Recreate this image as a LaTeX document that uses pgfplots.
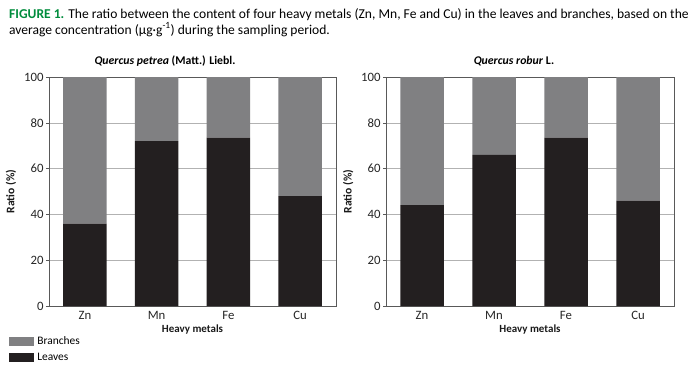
\documentclass[border=0pt]{standalone}
\usepackage{pgfplots}
\pgfplotsset{compat=1.18}
\usepackage{fontspec}
\setmainfont{Carlito}
\definecolor{figgreen}{RGB}{0,140,60}
\definecolor{branch}{RGB}{128,128,130}
\definecolor{leaf}{RGB}{35,31,32}
\pgfplotsset{
 mybar/.style={scale only axis, height=229bp, ybar stacked, bar width=43.5bp,
  xmin=-0.5, xmax=3.5, ymin=0, ymax=100,
  xtick={0,1,2,3}, xticklabels={Zn,Mn,Fe,Cu}, ytick={0,20,...,100},
  ytick pos=left,
  ymajorgrids, grid style={black!30, line width=0.5bp},
  axis line style={black!65, line width=0.6bp},
  x tick style={draw=none}, y tick style={black!65, line width=0.6bp},
  tick align=outside, major tick length=3bp,
  tick label style={font=\fontsize{12.8}{14}\selectfont, text=black!85},
  yticklabel style={xshift=1bp},
  xticklabel style={yshift=1bp},
  /pgf/number format/assume math mode=true,
  xlabel={\textbf{Heavy metals}}, ylabel={\textbf{Ratio (\%)}},
  xlabel style={font=\fontsize{11}{12}\selectfont, text=black!90, yshift=2bp},
  ylabel style={font=\fontsize{11.6}{13}\selectfont, text=black!90, yshift=1bp},
 }
}
\begin{document}
\begin{tikzpicture}
\useasboundingbox (0,0) rectangle (700bp,-379bp);
\node[anchor=base west, inner sep=0] at (9bp,-18bp) {\fontsize{13.6}{16}\selectfont\textcolor{figgreen}{\textbf{FIGURE 1.}} The ratio between the content of four heavy metals (Zn, Mn, Fe and Cu) in the leaves and branches, based on the};
\node[anchor=base west, inner sep=0] at (9bp,-34bp) {\fontsize{13.6}{16}\selectfont average concentration (µg·g\textsuperscript{-1}) during the sampling period.};
\node at (165bp,-61bp) {\fontsize{11.8}{13}\selectfont\textbf{\textit{Quercus petrea} (Matt.) Liebl.}};
\node at (514bp,-61bp) {\fontsize{11.8}{13}\selectfont\textbf{\textit{Quercus robur} L.}};
\begin{axis}[mybar, width=287bp, at={(49bp,-306bp)}, anchor=south west,
  legend style={draw=none, fill=none, at={(rel axis cs:-0.139,-0.133)}, anchor=north west,
   font=\fontsize{11.5}{13}\selectfont, legend cell align=left, row sep=7bp, inner sep=0pt,
   nodes={inner xsep=3bp, inner ysep=0pt}},
  reverse legend,
  legend image code/.code={\fill[#1] (-3bp,-4.3bp) rectangle (22bp,4.3bp);}]
\addplot[fill=leaf, draw=none] coordinates {(0,36) (1,72) (2,73.5) (3,48)};
\addplot[fill=branch, draw=none] coordinates {(0,64) (1,28) (2,26.5) (3,52)};
\legend{Leaves,Branches}
\end{axis}
\begin{axis}[mybar, width=288bp, at={(386bp,-306bp)}, anchor=south west]
\addplot[fill=leaf, draw=none] coordinates {(0,44) (1,66) (2,73.5) (3,46)};
\addplot[fill=branch, draw=none] coordinates {(0,56) (1,34) (2,26.5) (3,54)};
\end{axis}
\end{tikzpicture}
\end{document}
